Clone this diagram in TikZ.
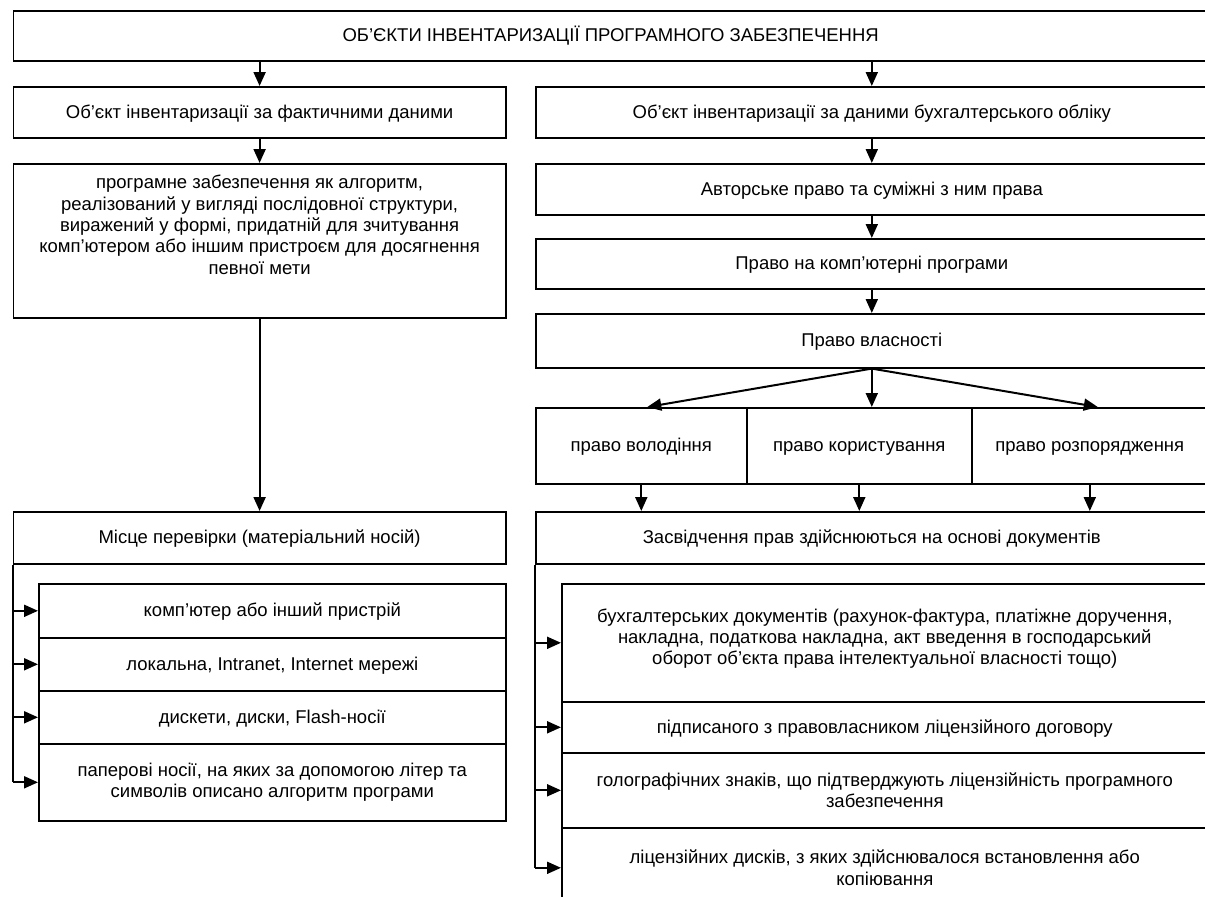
\documentclass[tikz,border=0pt]{standalone}
\usepackage{fontspec}
\setmainfont{Liberation Sans}
\usetikzlibrary{arrows.meta,calc}
\newcommand{\boxfont}{\fontsize{18.5pt}{21.3pt}\selectfont}

\begin{document}
\begin{tikzpicture}[x=1pt,y=-1pt,
      >={Triangle[length=14pt,width=12pt]},
      every node/.style={inner sep=0pt,anchor=north west},
      box/.style={draw,line width=1.6pt,align=center,font=\boxfont},
      one/.style={box,text height=15pt,text depth=3pt},
      arr/.style={->,line width=2pt}]
      \useasboundingbox(0,0)rectangle(1205,897);
      \clip(0,0)rectangle(1205,897);
      % top level
      \node[one,minimum width=1194.4pt,minimum height=50pt](top)at(12.6,10){ОБ’ЄКТИ ІНВЕНТАРИЗАЦІЇ ПРОГРАМНОГО ЗАБЕЗПЕЧЕННЯ};
      \node[one,minimum width=492.4pt,minimum height=51pt](fact)at(12.6,86){Об’єкт інвентаризації за фактичними даними};
      \node[one,minimum width=672pt,minimum height=51pt](buh)at(535,86){Об’єкт інвентаризації за даними бухгалтерського обліку};
      % left column
      \node[box,minimum width=492.4pt,minimum height=154pt](prog)at(12.6,163){програмне забезпечення як алгоритм,\\реалізований у вигляді послідовної структури,\\виражений у формі, придатній для зчитування\\комп’ютером або іншим пристроєм для досягнення\\певної мети\\[10.7pt]\mbox{}};
      \node[one,minimum width=492.4pt,minimum height=52pt](misce)at(12.6,511){Місце перевірки (матеріальний носій)};
      \node[one,minimum width=467pt,minimum height=54pt](m1)at(38,583){комп’ютер або інший пристрій};
      \node[one,minimum width=467pt,minimum height=53pt](m2)at(38,637){локальна, Intranet, Internet мережі};
      \node[one,minimum width=467pt,minimum height=53pt](m3)at(38,690){дискети, диски, Flash-носії};
      \node[box,minimum width=467pt,minimum height=77pt](m4)at(38,743){паперові носії, на яких за допомогою літер та\\символів описано алгоритм програми};
      % right column
      \node[one,minimum width=672pt,minimum height=51pt](avt)at(535,163){Авторське право та суміжні з ним права};
      \node[one,minimum width=672pt,minimum height=50pt](komp)at(535,238){Право на комп’ютерні програми};
      \node[one,minimum width=672pt,minimum height=54pt](vlas)at(535,313){Право власності};
      \node[one,minimum width=211pt,minimum height=76pt](vol)at(535,407){право володіння};
      \node[one,minimum width=225pt,minimum height=76pt](kor)at(746,407){право користування};
      \node[one,minimum width=236pt,minimum height=76pt](roz)at(971,407){право розпорядження};
      \node[one,minimum width=672pt,minimum height=52pt](zasv)at(535,511){Засвідчення прав здійснюються на основі документів};
      \node[box,minimum width=646pt,minimum height=118pt](z1)at(561,583){бухгалтерських документів (рахунок-фактура, платіжне доручення,\\накладна, податкова накладна, акт введення в господарський\\оборот об’єкта права інтелектуальної власності тощо)\\[-9pt]\mbox{}};
      \node[one,minimum width=646pt,minimum height=51pt](z2)at(561,701){підписаного з правовласником ліцензійного договору};
      \node[box,minimum width=646pt,minimum height=75pt](z3)at(561,752){голографічних знаків, що підтверджують ліцензійність програмного\\забезпечення};
      \node[box,minimum width=646pt,minimum height=80pt](z4)at(561,827){ліцензійних дисків, з яких здійснювалося встановлення або\\копіювання};
      % arrows
      \draw[arr](top.south-|fact.north)--(fact.north);
      \draw[arr](top.south-|buh.north)--(buh.north);
      \draw[arr](fact.south)--(prog.north);
      \draw[arr](prog.south)--(misce.north);
      \draw[arr](buh.south)--(avt.north);
      \draw[arr](avt.south)--(komp.north);
      \draw[arr](komp.south)--(vlas.north);
      \draw[arr](vlas.south)--($(vol.north)+(6,0)$);
      \draw[arr](vlas.south)--(vlas.south|-kor.north);
      \draw[arr](vlas.south)--($(roz.north)+(8,0)$);
      \foreach \n in {vol,kor,roz}\draw[arr](\n.south)--(\n.south|-zasv.north);
      \draw[line width=2pt](misce.south west)--(misce.south west|-m4.west);
      \foreach \n in {m1,m2,m3,m4}\draw[arr](misce.south west|-\n.west)--(\n.west);
      \draw[line width=2pt](zasv.south west)--(zasv.south west|-z4.west);
      \foreach \n in {z1,z2,z3,z4}\draw[arr](zasv.south west|-\n.west)--(\n.west);
\end{tikzpicture}
\end{document}
